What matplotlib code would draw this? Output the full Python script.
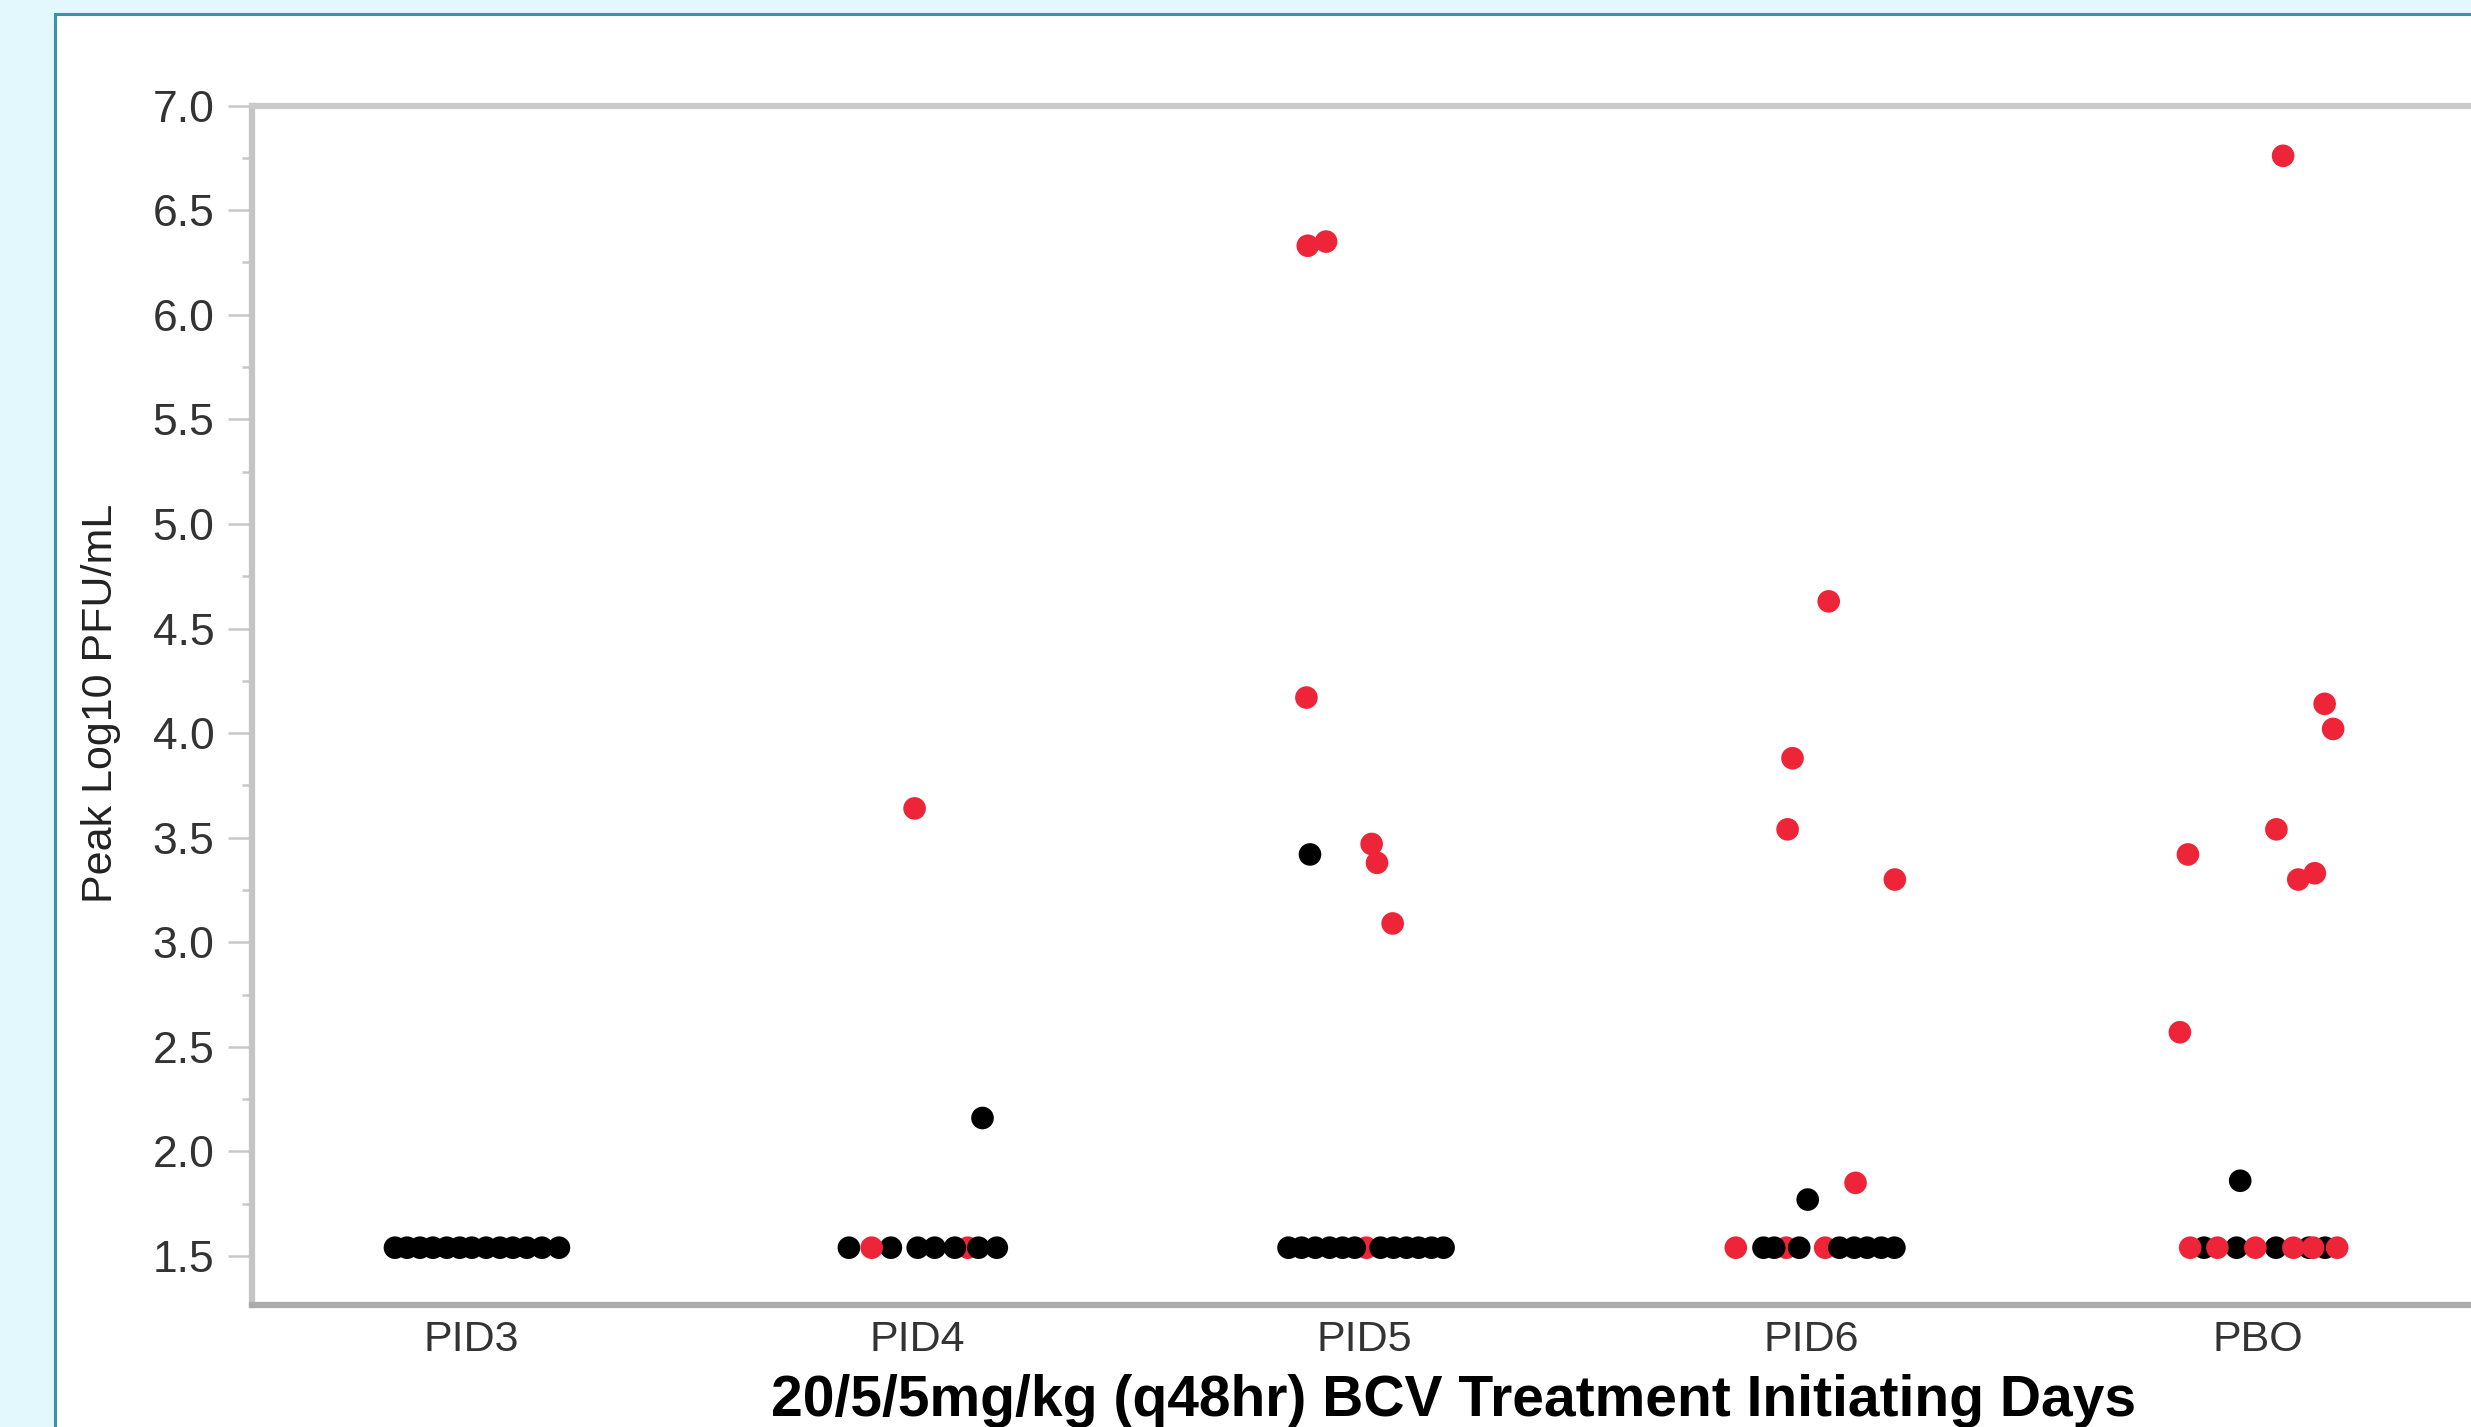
import matplotlib
matplotlib.use("Agg")
import matplotlib.pyplot as plt
from matplotlib.patches import Rectangle
from matplotlib.ticker import FixedLocator, FormatStrFormatter

# ---------------- data ----------------
categories = ["PID3", "PID4", "PID5", "PID6", "PBO"]
x_title = "20/5/5mg/kg (q48hr) BCV Treatment Initiating Days"
y_title = "Peak Log10 PFU/mL"
y_ticks = [1.5, 2.0, 2.5, 3.0, 3.5, 4.0, 4.5, 5.0, 5.5, 6.0, 6.5, 7.0]

# per group: horizontal jitter (category units), peak value, colour code (k = black, r = red)
pid3_jit = [-0.170, -0.143, -0.114, -0.085, -0.054, -0.025, 0.002, 0.034, 0.065, 0.094, 0.125, 0.159, 0.197]
pid3_val = [1.54] * 13
pid3_col = ["k"] * 13

pid4_jit = [0.112, -0.154, -0.060, -0.103, 0.000, 0.038, 0.083, 0.136, 0.177, -0.007, 0.145]
pid4_val = [1.54, 1.54, 1.54, 1.54, 1.54, 1.54, 1.54, 1.54, 1.54, 3.64, 2.16]
pid4_col = ["r", "k", "k", "r", "k", "k", "k", "k", "k", "r", "k"]

pid5_jit = [0.004, -0.170, -0.141, -0.110, -0.078, -0.049, -0.022, 0.036, 0.065, 0.094, 0.121, 0.150, 0.177,
            -0.127, -0.086, -0.130, -0.122, 0.016, 0.028, 0.063]
pid5_val = [1.54] * 13 + [6.33, 6.35, 4.17, 3.42, 3.47, 3.38, 3.09]
pid5_col = ["r"] + ["k"] * 12 + ["r", "r", "r", "k", "r", "r", "r"]

pid6_jit = [-0.056, 0.031, -0.107, -0.083, -0.027, 0.063, 0.096, 0.125, 0.157, 0.186, -0.169,
            0.039, -0.042, -0.053, 0.187, 0.099, -0.008]
pid6_val = [1.54] * 11 + [4.63, 3.88, 3.54, 3.30, 1.85, 1.77]
pid6_col = ["r", "r", "k", "k", "k", "k", "k", "k", "k", "k", "r",
            "r", "r", "r", "r", "r", "k"]

pbo_jit = [-0.121, -0.048, 0.040, 0.114, 0.150, -0.152, -0.091, -0.006, 0.079, 0.123, 0.177,
           0.056, 0.149, 0.168, 0.041, -0.157, 0.090, 0.127, -0.175, -0.040]
pbo_val = [1.54] * 11 + [6.76, 4.14, 4.02, 3.54, 3.42, 3.30, 3.33, 2.57, 1.86]
pbo_col = ["k", "k", "k", "k", "k", "r", "r", "r", "r", "r", "r",
           "r", "r", "r", "r", "r", "r", "r", "r", "k"]

groups = [
    (pid3_jit, pid3_val, pid3_col),
    (pid4_jit, pid4_val, pid4_col),
    (pid5_jit, pid5_val, pid5_col),
    (pid6_jit, pid6_val, pid6_col),
    (pbo_jit, pbo_val, pbo_col),
]

# ---------------- style ----------------
W, H = 2471, 1427
FONT = ["Liberation Sans Narrow", "Liberation Sans", "DejaVu Sans"]
plt.rcParams["font.family"] = FONT
colour_map = {"k": "#000000", "r": "#EE2439"}

fig = plt.figure(figsize=(W / 100, H / 100), dpi=100)
fig.patch.set_facecolor("#E2F8FC")

# white panel with teal border (runs off right/bottom edges)
panel = Rectangle((55 / W, -0.1), 2.0, (1 - 14 / H) + 0.1, transform=fig.transFigure,
                  facecolor="white", edgecolor="#3A93AA", linewidth=2.2, zorder=-5)
fig.patches.append(panel)

ax = fig.add_axes([252 / W, 1 - 1305 / H, (2477 - 252) / W, (1305 - 105.6) / H])
ax.set_zorder(5)
ax.set_facecolor("white")
ax.set_xlim(-0.49, 4.49)
ax.set_ylim(1.266, 7.0)

ax.spines["right"].set_visible(False)
ax.spines["left"].set_color("#c4c4c4")
ax.spines["left"].set_linewidth(4.5)
ax.spines["top"].set_color("#cacaca")
ax.spines["top"].set_linewidth(4.5)
ax.spines["bottom"].set_color("#ababab")
ax.spines["bottom"].set_linewidth(4.5)

ax.yaxis.set_major_locator(FixedLocator(y_ticks))
ax.yaxis.set_major_formatter(FormatStrFormatter("%.1f"))
ax.yaxis.set_minor_locator(FixedLocator([t + 0.25 for t in y_ticks[:-1]]))
ax.tick_params(axis="y", which="major", length=17, width=1.8, color="#c8c8c8",
               labelsize=32, labelcolor="#333333", pad=10, direction="out")
ax.tick_params(axis="y", which="minor", length=7, width=1.8, color="#c8c8c8", direction="out")

ax.set_xticks(range(len(categories)))
ax.set_xticklabels(categories)
ax.tick_params(axis="x", which="both", length=0, labelsize=31, labelcolor="#333333", pad=11)

for i, (jit, val, col) in enumerate(groups):
    xs = [i + j for j in jit]
    cs = [colour_map[c] for c in col]
    ax.scatter(xs, val, s=265, c=cs, linewidths=0, zorder=3, clip_on=False)

fig.text(101 / W, 1 - 703 / H, y_title, rotation=90, ha="center", va="center",
         fontsize=31, color="#222222")
fig.text(1454 / W, 1 - 1416 / H, x_title, ha="center", va="baseline",
         fontsize=41, fontweight="bold", color="black")

fig.savefig("out.png", dpi=100, facecolor=fig.get_facecolor())
